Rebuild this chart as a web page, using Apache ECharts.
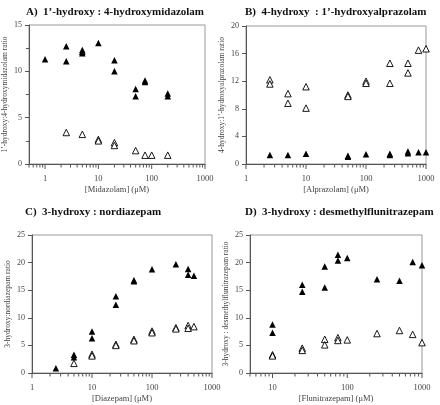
<!DOCTYPE html>
<html><head><meta charset="utf-8">
<script src="https://cdn.jsdelivr.net/npm/echarts@6/dist/echarts.min.js"></script>
<style>html,body{margin:0;padding:0;background:#fff}#c{width:440px;height:405px}</style>
</head><body><div id="c"></div>
<script>
// Panel A: midazolam
const aFilledX = [1, 2.5, 2.5, 5, 5, 5, 10, 20, 20, 50, 50, 75, 75, 200, 200];
const aFilledY = [11.3, 12.7, 11.1, 12.3, 12.1, 11.95, 13.05, 11.2, 10.0, 8.1, 7.3, 9.0, 8.85, 7.6, 7.3];
const aOpenX = [2.5, 5, 10, 10, 20, 20, 50, 75, 100, 200];
const aOpenY = [3.4, 3.2, 2.65, 2.5, 2.3, 2.0, 1.45, 0.95, 0.95, 0.95];
// Panel B: alprazolam
const bOpenX = [2.5, 2.5, 5, 5, 10, 10, 50, 50, 100, 100, 250, 250, 500, 500, 750, 1000];
const bOpenY = [12.2, 11.6, 10.2, 8.8, 11.2, 8.1, 10.0, 9.8, 12.0, 11.7, 14.6, 11.7, 14.6, 13.2, 16.5, 16.7];
const bFilledX = [2.5, 5, 10, 50, 50, 100, 250, 250, 500, 500, 750, 1000];
const bFilledY = [1.3, 1.3, 1.5, 1.2, 1.05, 1.4, 1.5, 1.3, 1.8, 1.55, 1.7, 1.7];
// Panel C: diazepam
const cFilledX = [2.5, 5, 5, 10, 10, 25, 25, 50, 50, 100, 250, 400, 400, 500];
const cFilledY = [0.85, 3.3, 2.85, 7.5, 6.3, 13.9, 12.35, 16.8, 16.6, 18.8, 19.7, 18.85, 17.8, 17.6];
const cOpenX = [5, 10, 10, 25, 25, 50, 50, 100, 100, 250, 250, 400, 400, 500];
const cOpenY = [1.75, 3.4, 3.1, 5.2, 5.0, 6.1, 5.85, 7.6, 7.3, 8.2, 8.0, 8.6, 8.1, 8.4];
// Panel D: flunitrazepam
const dFilledX = [10, 10, 25, 25, 50, 50, 75, 75, 100, 250, 500, 750, 1000];
const dFilledY = [8.8, 7.3, 16.0, 14.7, 19.3, 15.5, 21.4, 20.4, 20.85, 17.0, 16.7, 20.1, 19.5];
const dOpenX = [10, 10, 25, 25, 50, 50, 75, 75, 100, 250, 500, 750, 1000];
const dOpenY = [3.3, 3.1, 4.5, 4.1, 6.1, 5.1, 6.4, 5.9, 6.0, 7.15, 7.7, 7.0, 5.5];

// x-axis tick structure (log axes)
const decades = [0.1, 1, 10, 100, 1000];
const minorMultipliers = [2, 3, 4, 5, 6, 7, 8, 9];
const xTickLabels = ['1', '10', '100', '1000'];

const titles = [
  'A)  1\u2019-hydroxy : 4-hydroxymidazolam',
  'B)  4-hydroxy  : 1\u2019-hydroxyalprazolam',
  'C)  3-hydroxy : nordiazepam',
  'D)  3-hydroxy : desmethylflunitrazepam'
];
const xNames = ['[Midazolam] (\u03bcM)', '[Alprazolam] (\u03bcM)', '[Diazepam] (\u03bcM)', '[Flunitrazepam] (\u03bcM)'];
const yNames = ['1\u2019-hydroxy:4-hydroxymidazolam ratio', '4-hydroxy:1\u2019-hydroxyalprazolam ratio',
  '3-hydroxy:nordiazepam ratio', '3-hydroxy : desmethylflunitrazepam ratio'];
const xMins = [0.5, 1, 1, 5];
const xMaxs = [1000, 1000, 1000, 1000];
const yMaxs = [15, 20, 25, 25];
const yIntervals = [5, 4, 5, 5];
const yMinorTicks = [true, false, false, false];

const filled = [[aFilledX, aFilledY], [bFilledX, bFilledY], [cFilledX, cFilledY], [dFilledX, dFilledY]];
const open = [[aOpenX, aOpenY], [bOpenX, bOpenY], [cOpenX, cOpenY], [dOpenX, dOpenY]];

const grids = [
  {left: 27, top: 25, width: 178, height: 139},
  {left: 246, top: 26, width: 180, height: 138},
  {left: 32, top: 235, width: 180, height: 138},
  {left: 250, top: 235, width: 172, height: 138}
];
const titlePos = [{left: 26, top: 7}, {left: 245, top: 7}, {left: 25, top: 207}, {left: 245, top: 207}];

const FONT = 'Liberation Serif';
const zip = (xs, ys) => xs.map((x, i) => [x, ys[i]]);
const isPow10 = v => Math.abs(Math.log10(v) - Math.round(Math.log10(v))) < 1e-9;

function ticksFor(min, max) {
  const out = [];
  decades.forEach(d => {
    const major = +(d).toPrecision(6);
    if (major >= min - 1e-9 && major <= max + 1e-9) out.push([major, 1]);
    minorMultipliers.forEach(m => {
      const v = +(d * m).toPrecision(6);
      if (v >= min - 1e-9 && v <= max + 1e-9) out.push([v, 0]);
    });
  });
  return out;
}

const tickSeries = grids.map((g, i) => ({
  type: 'custom', xAxisIndex: i, yAxisIndex: i, silent: true, clip: false, z: 1,
  data: ticksFor(xMins[i], xMaxs[i]),
  renderItem: (params, api) => {
    const p = api.coord([api.value(0), 0]);
    const len = api.value(1) ? 5 : 3.5;
    return {type: 'line', shape: {x1: p[0], y1: p[1], x2: p[0], y2: p[1] + len},
      style: {stroke: '#555', lineWidth: 1}};
  }
}));

const option = {
  animation: false,
  backgroundColor: '#fff',
  title: titles.map((t, i) => ({
    text: t, left: titlePos[i].left, top: titlePos[i].top, padding: 0,
    textStyle: {fontFamily: FONT, fontWeight: 'bold', fontSize: 11, color: '#111'}
  })),
  grid: grids.map(g => Object.assign({show: true, borderColor: '#999', borderWidth: 1, backgroundColor: 'transparent'}, g)),
  xAxis: grids.map((g, i) => ({
    type: 'log', logBase: 10, gridIndex: i, min: xMins[i], max: xMaxs[i],
    name: xNames[i], nameLocation: 'middle', nameGap: 21,
    nameTextStyle: {fontFamily: FONT, fontSize: 8.5, color: '#444'},
    axisLine: {show: true, lineStyle: {color: '#555', width: 1}},
    axisTick: {show: false},
    minorTick: {show: false},
    splitLine: {show: false}, minorSplitLine: {show: false},
    axisLabel: {fontFamily: FONT, fontSize: 8.5, color: '#444', margin: 10,
      showMinLabel: true, showMaxLabel: true,
      formatter: v => isPow10(v) && xTickLabels.indexOf(String(Math.round(v))) >= 0 ? String(Math.round(v)) : ''}
  })),
  yAxis: grids.map((g, i) => ({
    type: 'value', gridIndex: i, min: 0, max: yMaxs[i], interval: yIntervals[i],
    name: yNames[i], nameLocation: 'middle', nameGap: 20,
    nameTextStyle: {fontFamily: FONT, fontSize: 7.5, color: '#444'},
    axisLine: {show: true, lineStyle: {color: '#555', width: 1}},
    axisTick: {show: true, inside: false, length: 4, lineStyle: {color: '#555'}},
    minorTick: {show: yMinorTicks[i], splitNumber: 2, length: 3, lineStyle: {color: '#555'}},
    splitLine: {show: false},
    axisLabel: {fontFamily: FONT, fontSize: 8, color: '#444', margin: 7}
  })),
  series: [].concat(
    tickSeries,
    filled.map((d, i) => ({
      type: 'scatter', xAxisIndex: i, yAxisIndex: i, symbol: 'triangle', symbolSize: 6.5,
      itemStyle: {color: '#000', opacity: 1}, data: zip(d[0], d[1])
    })),
    open.map((d, i) => ({
      type: 'scatter', xAxisIndex: i, yAxisIndex: i, symbol: 'triangle', symbolSize: 6.5,
      itemStyle: {color: '#fff', borderColor: '#000', borderWidth: 0.9, opacity: 1}, data: zip(d[0], d[1])
    }))
  )
};
const chart = echarts.init(document.getElementById('c'), null, {renderer: 'canvas'});
chart.setOption(option);
</script></body></html>
